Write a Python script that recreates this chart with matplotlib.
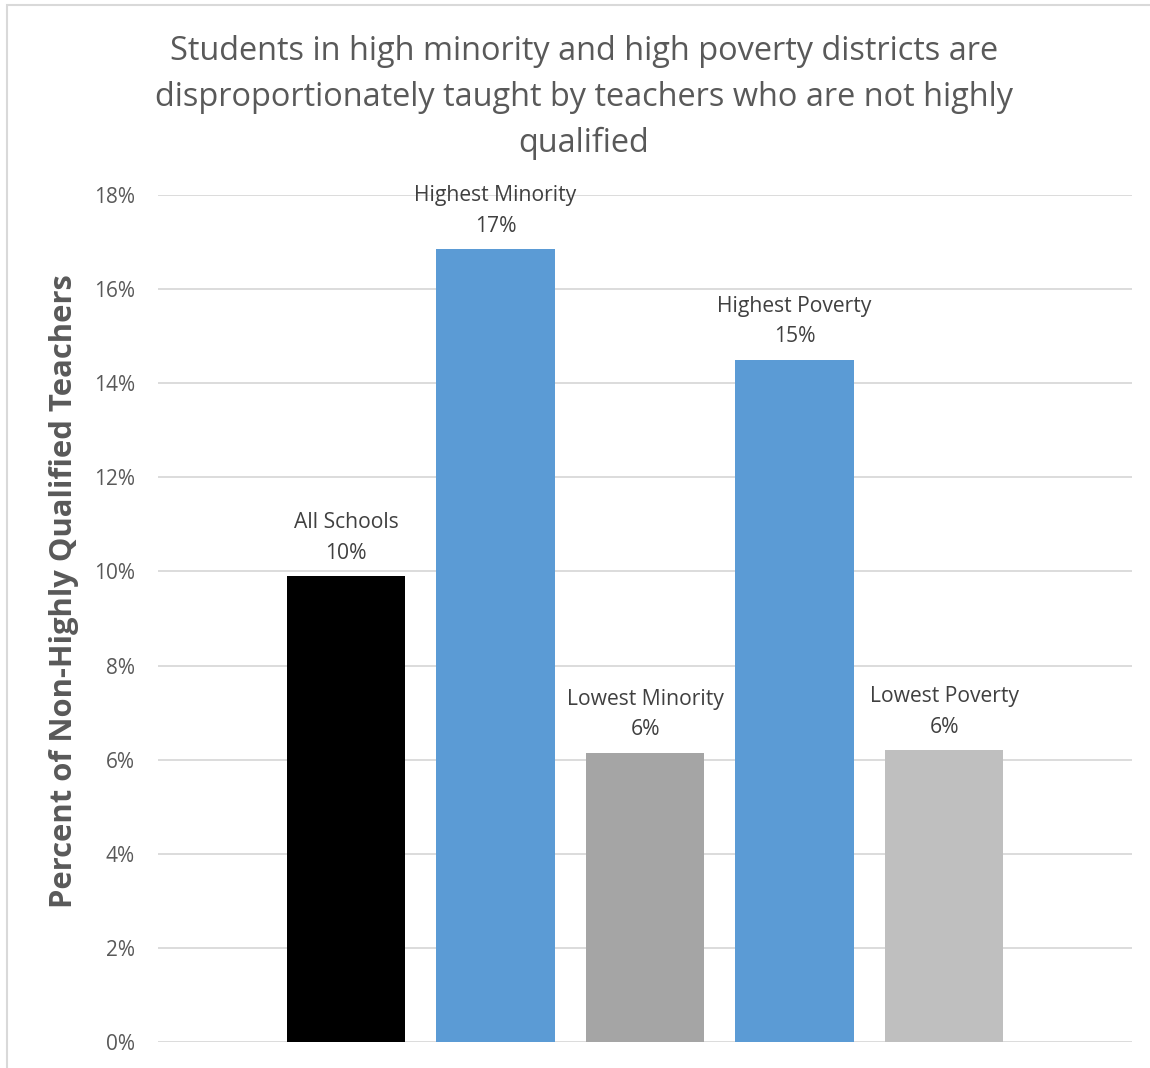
import matplotlib
matplotlib.use("Agg")
import matplotlib.pyplot as plt
from matplotlib.patches import Rectangle

categories = ["All Schools", "Highest Minority", "Lowest Minority", "Highest Poverty", "Lowest Poverty"]
values = [9.9, 16.85, 6.15, 14.5, 6.2]
value_labels = ["10%", "17%", "6%", "15%", "6%"]
colors = ["#000000", "#5B9BD5", "#A5A5A5", "#5B9BD5", "#BFBFBF"]
yticks = [0, 2, 4, 6, 8, 10, 12, 14, 16, 18]

plt.rcParams['font.family'] = ['Open Sans', 'DejaVu Sans']
text_color = "#595959"

W, H = 1150, 1068
fig = plt.figure(figsize=(W / 100, H / 100), dpi=100)

# chart border
fig.patches.append(Rectangle((7 / W, -0.05), 1.2, 1 - 5 / H + 0.05, transform=fig.transFigure,
                             fill=False, edgecolor="#D9D9D9", linewidth=1.5))

ax = fig.add_axes([158 / W, 1 - 1042 / H, (1132 - 158) / W, (1042 - 195) / H])
x = list(range(len(categories)))
ax.bar(x, values, width=0.79, color=colors, zorder=3)
ax.set_xlim(-1.257, 5.257)
ax.set_ylim(0, 18)
ax.set_yticks(yticks)
ax.set_yticklabels([f"{t}%" for t in yticks], fontsize=15, color=text_color)
ax.tick_params(axis='y', length=0, pad=16.5)
ax.set_xticks([])
for s in ax.spines.values():
    s.set_visible(False)
ax.grid(axis='y', color="#D9D9D9", linewidth=1.3, zorder=0)
ax.set_axisbelow(True)

for xi, v, name, lab in zip(x, values, categories, value_labels):
    ax.annotate(f"{name}\n{lab}", (xi, v), xytext=(0, 9), textcoords='offset points',
                ha='center', va='bottom', fontsize=15.2, color="#404040", linespacing=1.6)

ax.set_ylabel("Percent of Non-Highly Qualified Teachers", fontsize=22.3, fontweight='bold',
              color=text_color)
ax.yaxis.set_label_coords(-0.081, 0.532)

fig.text(584 / W, 1 - 97.5 / H,
         "Students in high minority and high poverty districts are\n"
         "disproportionately taught by teachers who are not highly\nqualified",
         ha='center', va='center', fontsize=23.4, color=text_color, linespacing=1.52)

fig.savefig("out.png", dpi=100)
